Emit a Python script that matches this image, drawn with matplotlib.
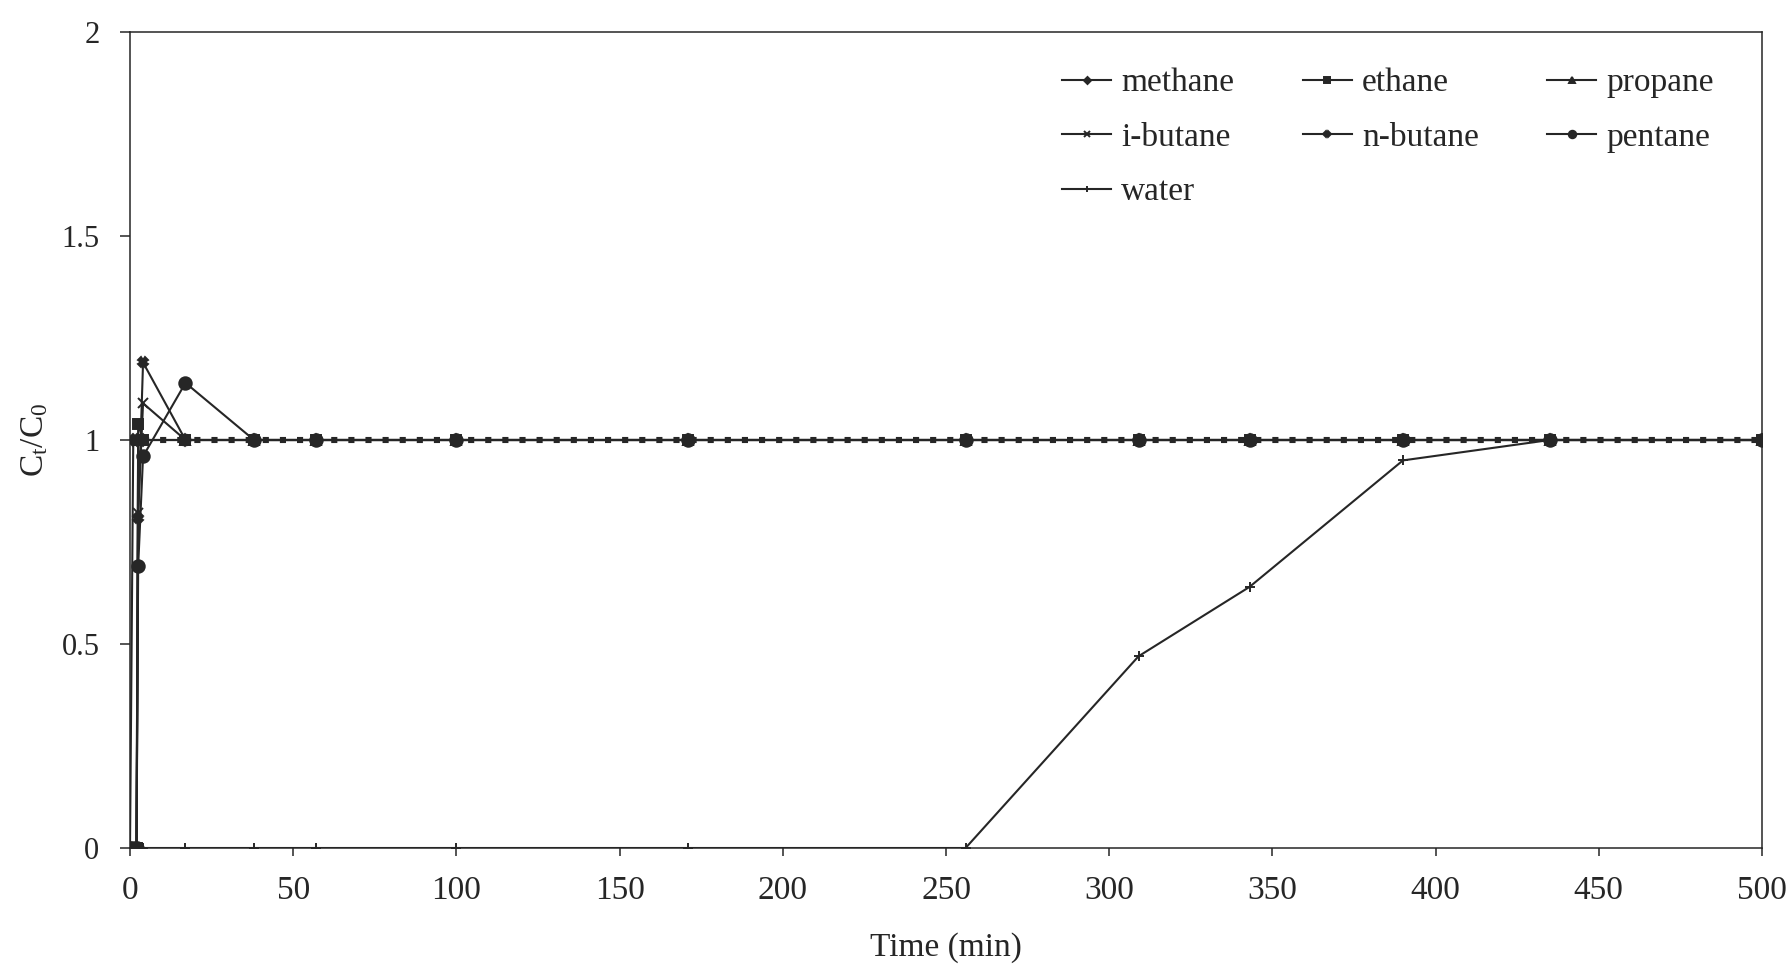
import matplotlib
matplotlib.use("Agg")
import matplotlib.pyplot as plt

plt.rcParams['font.family'] = ['Liberation Serif', 'DejaVu Serif']
plt.rcParams['mathtext.fontset'] = 'custom'
plt.rcParams['mathtext.rm'] = 'Liberation Serif'
plt.rcParams['mathtext.it'] = 'Liberation Serif'

# sampling times (min)
time = [0, 1, 2, 2.5, 4, 17, 38, 57, 100, 171, 256, 309, 343, 390, 435, 500]

# normalised outlet concentration C_t/C_0
methane  = [0, 1.00, 1.00, 1.00, 1.00, 1.00, 1.00, 1.00, 1.00, 1.00, 1.00, 1.00, 1.00, 1.00, 1.00, 1.00]
ethane   = [0, 0, 0, 1.04, 1.00, 1.00, 1.00, 1.00, 1.00, 1.00, 1.00, 1.00, 1.00, 1.00, 1.00, 1.00]
propane  = [0, 0, 0, 1.00, 1.00, 1.00, 1.00, 1.00, 1.00, 1.00, 1.00, 1.00, 1.00, 1.00, 1.00, 1.00]
ibutane  = [0, 0, 0, 0.82, 1.09, 1.00, 1.00, 1.00, 1.00, 1.00, 1.00, 1.00, 1.00, 1.00, 1.00, 1.00]
nbutane  = [0, 0, 0, 0.81, 1.19, 1.00, 1.00, 1.00, 1.00, 1.00, 1.00, 1.00, 1.00, 1.00, 1.00, 1.00]
pentane  = [0, 0, 0, 0.69, 0.96, 1.14, 1.00, 1.00, 1.00, 1.00, 1.00, 1.00, 1.00, 1.00, 1.00, 1.00]
water    = [0, 0, 0, 0, 0, 0, 0, 0, 0, 0, 0, 0.47, 0.64, 0.95, 1.00, 1.00]

xticks = [0, 50, 100, 150, 200, 250, 300, 350, 400, 450, 500]
yticks = [0, 0.5, 1, 1.5, 2]
ytick_labels = ['0', '0.5', '1', '1.5', '2']

ink = '#262626'

fig = plt.figure(figsize=(17.92, 9.64), dpi=100)
ax = fig.add_axes([130 / 1792, 1 - 848 / 964, 1632 / 1792, 816 / 964])

series = [
    ('methane', methane, 'D', 6),
    ('ethane', ethane, 's', 7),
    ('propane', propane, '^', 7),
    ('i-butane', ibutane, 'x', 7),
    ('n-butane', nbutane, 'X', 7),
    ('pentane', pentane, 'o', 9),
    ('water', water, '+', 7),
]

handles = {}
for name, vals, mk, ms in series:
    h, = ax.plot(time, vals, color=ink, lw=1.5, marker=mk, ms=ms,
                 mew=1.4, mec=ink, mfc=ink, label=name, zorder=3)
    handles[name] = h

# beaded look of the overlapping plateau lines
ax.plot(time[4:], propane[4:], color=ink, lw=4.4, ls=(0, (1.0, 1.8)),
        solid_capstyle='butt', dash_capstyle='butt', zorder=2)

ax.set_xlim(0, 500)
ax.set_ylim(0, 2)
ax.set_xticks(xticks)
ax.set_yticks(yticks)
ax.set_yticklabels(ytick_labels)
ax.tick_params(axis='x', direction='out', length=6, width=1.1, pad=14,
               labelsize=24, colors=ink)
ax.tick_params(axis='y', direction='out', length=7, width=1.1, pad=15,
               labelsize=22, colors=ink)
for s in ax.spines.values():
    s.set_linewidth(1.1)
    s.set_color(ink)

ax.set_xlabel('Time (min)', fontsize=24, color=ink, labelpad=19)
ax.set_ylabel(r'C$_\mathrm{t}$/C$_0$', fontsize=24, color=ink, labelpad=8)

order = ['methane', 'i-butane', 'water', 'ethane', 'n-butane', 'propane', 'pentane']
leg = ax.legend([handles[n] for n in order], order, ncol=3, frameon=False,
                loc='upper left', bbox_to_anchor=(0.571, 0.956),
                fontsize=24, handlelength=1.48, handletextpad=0.3,
                columnspacing=2.05, labelspacing=0.72, markerscale=0.6,
                borderaxespad=0, borderpad=0)
for t in leg.get_texts():
    t.set_color(ink)

fig.savefig('out.png', dpi=100, facecolor='white')
